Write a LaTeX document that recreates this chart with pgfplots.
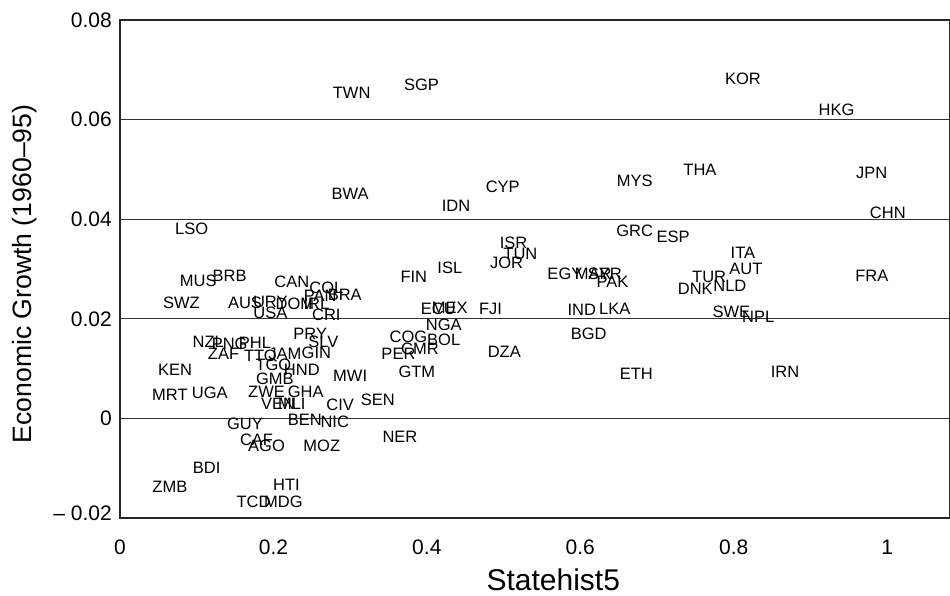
\documentclass[border=0pt]{standalone}
\usepackage{fontspec}
\setmainfont{Liberation Sans}
\usepackage{pgfplots}
\pgfplotsset{compat=1.18}
\usepackage{pgfplotstable}

\pgfplotstableread{
lab x y
TWN 0.302 0.0653
SGP 0.393 0.0670
BWA 0.300 0.0450
IDN 0.438 0.0427
CYP 0.499 0.0465
LSO 0.0935 0.0380
KOR 0.812 0.0681
HKG 0.934 0.0619
MYS 0.671 0.0477
THA 0.756 0.0500
JPN 0.980 0.0492
CHN 1.001 0.0412
GRC 0.671 0.0377
ESP 0.721 0.0365
ITA 0.812 0.0332
AUT 0.816 0.0301
TUR 0.768 0.0285
NLD 0.795 0.0267
DNK 0.750 0.0260
SWE 0.797 0.0215
NPL 0.832 0.0203
EGY 0.580 0.0290
MAR 0.617 0.0290
SYR 0.632 0.0291
PAK 0.642 0.0275
IND 0.602 0.0219
LKA 0.645 0.0221
BGD 0.611 0.0170
ISR 0.513 0.0352
TUN 0.522 0.0330
JOR 0.504 0.0313
ISL 0.430 0.0303
FIN 0.383 0.0285
MEX 0.430 0.0223
ECU 0.415 0.0221
FJI 0.483 0.0220
NGA 0.422 0.0188
COG 0.376 0.0163
BOL 0.422 0.0157
CMR 0.391 0.0140
PER 0.363 0.0130
GTM 0.387 0.0093
DZA 0.501 0.0133
ETH 0.673 0.0090
IRN 0.867 0.0094
FRA 0.980 0.0286
MUS 0.102 0.0277
BRB 0.143 0.0287
SWZ 0.080 0.0233
CAN 0.224 0.0275
COL 0.269 0.0263
PAN 0.261 0.0247
BRA 0.293 0.0249
AUS 0.163 0.0233
URY 0.196 0.0233
DOM 0.228 0.0230
IRL 0.256 0.0231
USA 0.196 0.0213
CRI 0.269 0.0207
NZL 0.115 0.0153
PNG 0.143 0.0150
PHL 0.176 0.0152
ZAF 0.135 0.0130
TTO 0.183 0.0125
JAM 0.215 0.0130
GIN 0.256 0.0132
SLV 0.265 0.0153
PRY 0.248 0.0170
TGO 0.200 0.0107
HND 0.237 0.0097
GMB 0.202 0.0080
ZWE 0.191 0.0053
GHA 0.242 0.0054
VEN 0.206 0.0030
MLI 0.224 0.0030
KEN 0.0717 0.0097
MRT 0.065 0.0048
UGA 0.117 0.0052
CIV 0.287 0.0028
SEN 0.336 0.0038
MWI 0.300 0.0086
NER 0.365 -0.0036
GUY 0.163 -0.0010
BEN 0.241 -0.0003
NIC 0.280 -0.0007
CAF 0.178 -0.0043
AGO 0.191 -0.0055
MOZ 0.263 -0.0055
BDI 0.113 -0.0099
ZMB 0.065 -0.0138
HTI 0.217 -0.0133
TCD 0.174 -0.0167
MDG 0.213 -0.0167
}\data

\begin{document}
\begin{tikzpicture}
\useasboundingbox (-120bp,-78bp) rectangle (830bp,518bp);
\begin{axis}[
  at={(0,0)}, anchor=south west,
  scale only axis, width=830bp, height=498bp,
  xmin=0, xmax=1.082, ymin=-0.02, ymax=0.08,
  scaled ticks=false,
  axis line style={line width=1.2pt, black!85},
  xtick={0,0.2,0.4,0.6,0.8,1},
  xticklabels={0,0.2,0.4,0.6,0.8,1},
  ytick={-0.02,0,0.02,0.04,0.06,0.08},
  yticklabels={\raisebox{10bp}{– 0.02},0,0.02,0.04,0.06,0.08},
  major tick length=0pt,
  ymajorgrids,
  grid style={line width=0.8pt, black!80},
  tick label style={font=\fontsize{21bp}{21bp}\selectfont, text=black},
  xticklabel style={anchor=center, yshift=-29bp},
  yticklabel style={anchor=east, inner sep=0pt, xshift=-8bp},
  xlabel={Statehist5},
  ylabel={Economic Growth (1960–95)},
  every axis x label/.style={at={(axis description cs:0.522,-0.124)}, anchor=center, font=\fontsize{30bp}{30bp}\selectfont},
  every axis y label/.style={at={(axis description cs:-0.1145,0.49)}, anchor=center, rotate=90, font=\fontsize{26.6bp}{26.6bp}\selectfont},
  clip=false,
]
\addplot[only marks, mark=none, nodes near coords, nodes near coords align=center,
  point meta=explicit symbolic,
  every node near coord/.append style={font=\fontsize{16.5bp}{16.5bp}\selectfont, inner sep=0pt, text=black}]
  table[x=x, y=y, meta=lab] {\data};
\end{axis}
\end{tikzpicture}
\end{document}
